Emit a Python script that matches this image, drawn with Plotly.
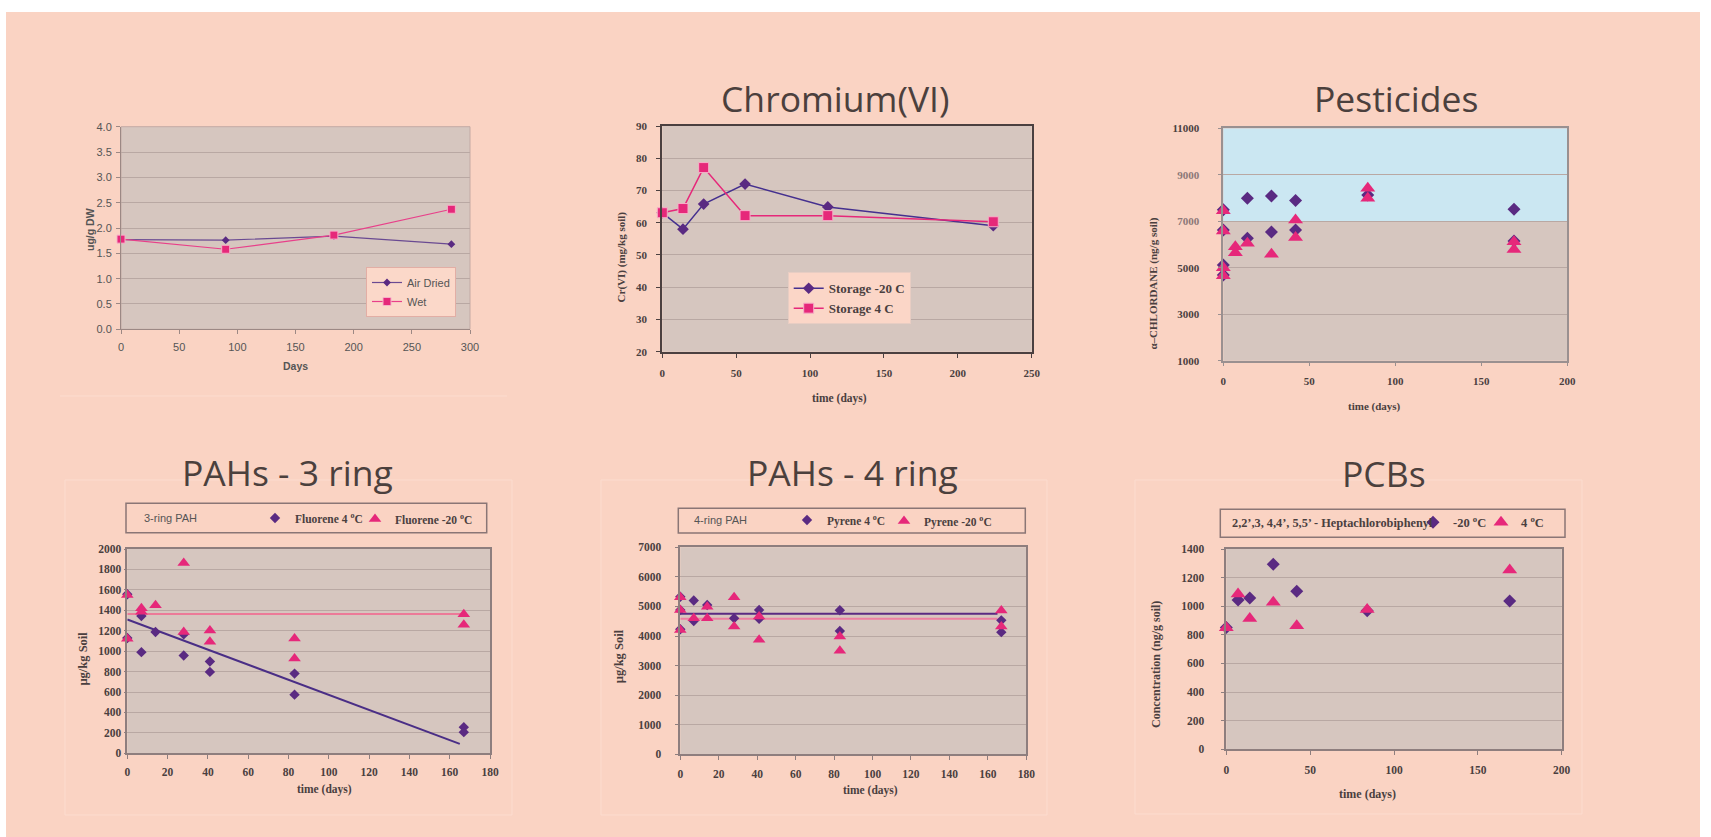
import plotly.graph_objects as go

W, H = 1711, 837

# ---------------- data ----------------
# Panel 1 (untitled)
p1_days = [0, 90, 183, 284]
p1_air_dried = [1.77, 1.76, 1.84, 1.68]
p1_wet = [1.78, 1.58, 1.86, 2.37]
p1_xticks = [0, 50, 100, 150, 200, 250, 300]
p1_yticks = [0.0, 0.5, 1.0, 1.5, 2.0, 2.5, 3.0, 3.5, 4.0]

# Panel 2 Chromium(VI)
cr_days = [0, 14, 28, 56, 112, 224]
cr_storage_m20 = [63.1, 58.0, 65.8, 72.0, 64.9, 59.1]
cr_storage_4 = [63.1, 64.4, 77.1, 62.2, 62.2, 60.3]
cr_xticks = [0, 50, 100, 150, 200, 250]
cr_yticks = [20, 30, 40, 50, 60, 70, 80, 90]

# Panel 3 Pesticides (alpha-chlordane)
pest_dia_days = [0, 0, 0, 0, 14, 14, 28, 28, 42, 42, 84, 169, 169]
pest_dia_vals = [7500, 6620, 5120, 4690, 7990, 6270, 8090, 6540, 7890, 6620, 8130, 7520, 6150]
pest_tri_days = [0, 0, 0, 0, 7, 7, 14, 28, 42, 42, 84, 84, 169, 169]
pest_tri_vals = [7450, 6580, 5000, 4650, 5900, 5650, 6050, 5580, 7050, 6300, 8420, 7990, 6120, 5790]
pest_xticks = [0, 50, 100, 150, 200]
pest_yticks = [1000, 3000, 5000, 7000, 9000, 11000]

# Panel 4 PAHs - 3 ring
flu_days = [0, 0, 7, 7, 14, 28, 28, 41, 41, 83, 83, 167, 167]
flu_4c = [1557, 1128, 1344, 990, 1187, 957, 1164, 898, 797, 780, 574, 256, 207]
flu_m20 = [1550, 1121, 1420, 1385, 1449, 1862, 1187, 1203, 1092, 1125, 928, 1361, 1259]
flu_fit4_days = [0, 165]
flu_fit4_vals = [1310, 92]
flu_fit20_days = [0, 167]
flu_fit20_vals = [1364, 1364]
pah3_xticks = [0, 20, 40, 60, 80, 100, 120, 140, 160, 180]
pah3_yticks = [0, 200, 400, 600, 800, 1000, 1200, 1400, 1600, 1800, 2000]

# Panel 5 PAHs - 4 ring
pyr_dia_days = [0, 0, 0, 7, 7, 14, 28, 41, 41, 83, 83, 167, 167]
pyr_4c = [5330, 4880, 4230, 5200, 4510, 5050, 4600, 4880, 4580, 4870, 4170, 4530, 4130]
pyr_tri_days = [0, 0, 0, 7, 14, 14, 28, 28, 41, 41, 83, 83, 167, 167]
pyr_m20 = [5310, 4880, 4200, 4600, 4990, 4600, 5310, 4320, 4660, 3870, 3980, 3500, 4860, 4320]
pyr_fit4_days = [0, 165]
pyr_fit4_vals = [4757, 4757]
pyr_fit20_days = [0, 165]
pyr_fit20_vals = [4588, 4588]
pah4_xticks = [0, 20, 40, 60, 80, 100, 120, 140, 160, 180]
pah4_yticks = [0, 1000, 2000, 3000, 4000, 5000, 6000, 7000]

# Panel 6 PCBs
pcb_days = [0, 7, 14, 28, 42, 84, 169]
pcb_m20 = [852, 1044, 1057, 1293, 1104, 969, 1037]
pcb_4c = [850, 1085, 915, 1027, 864, 978, 1253]
pcb_xticks = [0, 50, 100, 150, 200]
pcb_yticks = [0, 200, 400, 600, 800, 1000, 1200, 1400]

# ---------------- styling ----------------
PEACH = "#fad3c3"
PLOTBG = "#d6c6bf"
GRID = "#b9a8a3"
PURPLE = "#5a2a82"
PINK = "#e6287a"
TXT = "#4a3f3f"
SERIF = "Liberation Serif, Times New Roman, serif"
SANS = "Liberation Sans, Arial, sans-serif"
TITLEF = "Open Sans, sans-serif"


def xd(a, b):
    return [a / W, b / W]


def yd(t, b):
    return [1 - b / H, 1 - t / H]


def px(x):
    return x / W


def py(y):
    return 1 - y / H


fig = go.Figure()

# Panel 1
fig.add_trace(go.Scatter(x=p1_days, y=p1_air_dried, name="Air Dried", mode="lines+markers",
                         line=dict(color="#6a4a92", width=1.2),
                         marker=dict(symbol="diamond", size=6, color=PURPLE),
                         xaxis="x", yaxis="y", legend="legend", cliponaxis=False))
fig.add_trace(go.Scatter(x=p1_days, y=p1_wet, name="Wet", mode="lines+markers",
                         line=dict(color="#e8408a", width=1.2),
                         marker=dict(symbol="square", size=8, color=PINK, line=dict(color="#f6b0c8", width=1)),
                         xaxis="x", yaxis="y", legend="legend", cliponaxis=False))

# Panel 2
fig.add_trace(go.Scatter(x=cr_days, y=cr_storage_m20, name="Storage -20 C", mode="lines+markers",
                         line=dict(color="#45308f", width=1.5),
                         marker=dict(symbol="diamond", size=9, color=PURPLE),
                         xaxis="x2", yaxis="y2", legend="legend2", cliponaxis=False))
fig.add_trace(go.Scatter(x=cr_days, y=cr_storage_4, name="Storage 4 C", mode="lines+markers",
                         line=dict(color=PINK, width=1.5),
                         marker=dict(symbol="square", size=10, color=PINK, line=dict(color="#f6b0c8", width=1)),
                         xaxis="x2", yaxis="y2", legend="legend2", cliponaxis=False))

# Panel 3
fig.add_trace(go.Scatter(x=pest_dia_days, y=pest_dia_vals, mode="markers", showlegend=False,
                         marker=dict(symbol="diamond", size=10, color=PURPLE),
                         xaxis="x3", yaxis="y3", cliponaxis=False))
fig.add_trace(go.Scatter(x=pest_tri_days, y=pest_tri_vals, mode="markers", showlegend=False,
                         marker=dict(symbol="triangle-up", size=13, color=PINK),
                         xaxis="x3", yaxis="y3", cliponaxis=False))

# Panel 4
fig.add_trace(go.Scatter(x=flu_fit20_days, y=flu_fit20_vals, mode="lines", showlegend=False,
                         line=dict(color="#ec7a98", width=2), xaxis="x4", yaxis="y4"))
fig.add_trace(go.Scatter(x=flu_fit4_days, y=flu_fit4_vals, mode="lines", showlegend=False,
                         line=dict(color="#4a2e86", width=2), xaxis="x4", yaxis="y4"))
fig.add_trace(go.Scatter(x=flu_days, y=flu_4c, name="Fluorene 4 <sup>o</sup>C", mode="markers",
                         marker=dict(symbol="diamond", size=8, color=PURPLE),
                         xaxis="x4", yaxis="y4", legend="legend3", cliponaxis=False))
fig.add_trace(go.Scatter(x=flu_days, y=flu_m20, name="Fluorene -20 <sup>o</sup>C", mode="markers",
                         marker=dict(symbol="triangle-up", size=11, color=PINK),
                         xaxis="x4", yaxis="y4", legend="legend4", cliponaxis=False))

# Panel 5
fig.add_trace(go.Scatter(x=pyr_fit4_days, y=pyr_fit4_vals, mode="lines", showlegend=False,
                         line=dict(color="#5a2a82", width=2), xaxis="x5", yaxis="y5"))
fig.add_trace(go.Scatter(x=pyr_fit20_days, y=pyr_fit20_vals, mode="lines", showlegend=False,
                         line=dict(color="#ee7fa0", width=2), xaxis="x5", yaxis="y5"))
fig.add_trace(go.Scatter(x=pyr_dia_days, y=pyr_4c, name="Pyrene 4 <sup>o</sup>C", mode="markers",
                         marker=dict(symbol="diamond", size=8, color=PURPLE),
                         xaxis="x5", yaxis="y5", legend="legend5", cliponaxis=False))
fig.add_trace(go.Scatter(x=pyr_tri_days, y=pyr_m20, name="Pyrene -20 <sup>o</sup>C", mode="markers",
                         marker=dict(symbol="triangle-up", size=11, color=PINK),
                         xaxis="x5", yaxis="y5", legend="legend6", cliponaxis=False))

# Panel 6
fig.add_trace(go.Scatter(x=pcb_days, y=pcb_m20, name="-20 <sup>o</sup>C", mode="markers",
                         marker=dict(symbol="diamond", size=10, color=PURPLE),
                         xaxis="x6", yaxis="y6", legend="legend7", cliponaxis=False))
fig.add_trace(go.Scatter(x=pcb_days, y=pcb_4c, name="4 <sup>o</sup>C", mode="markers",
                         marker=dict(symbol="triangle-up", size=13, color=PINK),
                         xaxis="x6", yaxis="y6", legend="legend8", cliponaxis=False))


def xaxis(domain, rng, ticks, anchor, font, color, linecolor, lw=1, mirror=False, standoff=0, ticklen=4):
    return dict(domain=domain, range=rng, tickvals=ticks, anchor=anchor, showgrid=False, zeroline=False,
                showline=True, linecolor=linecolor, linewidth=lw, mirror=mirror,
                ticks="outside", ticklen=ticklen, tickcolor=linecolor, tickwidth=1,
                tickfont=dict(family=font["family"], size=font["size"], color=color, weight=font.get("weight", "normal")),
                ticklabelstandoff=standoff, fixedrange=True, automargin=False)


def yaxis(domain, rng, ticks, anchor, font, color, linecolor, lw=1, mirror=False, standoff=0,
          ticktext=None, tickformat=None, ticklen=4):
    d = dict(domain=domain, range=rng, tickvals=ticks, anchor=anchor, showgrid=True, gridcolor=GRID,
             gridwidth=1, zeroline=False, showline=True, linecolor=linecolor, linewidth=lw, mirror=mirror,
             ticks="outside", ticklen=ticklen, tickcolor=linecolor, tickwidth=1,
             tickfont=dict(family=font["family"], size=font["size"], color=color, weight=font.get("weight", "normal")),
             ticklabelstandoff=standoff, fixedrange=True, automargin=False)
    if ticktext is not None:
        d["ticktext"] = ticktext
    if tickformat is not None:
        d["tickformat"] = tickformat
    return d


sansf = dict(family=SANS, size=11)
serif11 = dict(family=SERIF, size=11, weight="bold")
serif115 = dict(family=SERIF, size=11.5, weight="bold")

pest_ticktext = [str(v) if v not in (7000, 9000) else '<span style="color:#8c7878">%d</span>' % v
                 for v in pest_yticks]

layout = dict(
    width=W, height=H, autosize=False,
    margin=dict(l=0, r=0, t=0, b=0, pad=0, autoexpand=False),
    paper_bgcolor="white", plot_bgcolor=PLOTBG,
    xaxis=xaxis(xd(121, 470), [0, 300], p1_xticks, "y", sansf, "#555", "#9c8884", standoff=3),
    yaxis=yaxis(yd(126.7, 329.3), [0, 4], p1_yticks, "x", sansf, "#555", "#9c8884", standoff=2,
                tickformat=".1f"),
    xaxis2=xaxis(xd(662.3, 1031.7), [0, 250], cr_xticks, "y2", serif11, TXT, "#4b4040", lw=2, mirror=True,
                 standoff=6),
    yaxis2=yaxis(yd(126, 351.7), [20, 90], cr_yticks, "x2", serif11, TXT, "#4b4040", lw=2, mirror=True,
                 standoff=7),
    xaxis3=xaxis(xd(1223.3, 1567.3), [0, 200], pest_xticks, "y3", serif11, TXT, "#9a9090", lw=1.5,
                 mirror=True, standoff=5),
    yaxis3=yaxis(yd(128.3, 360.7), [1000, 11000], pest_yticks, "x3", serif11, TXT, "#9a9090", lw=1.5,
                 mirror=True, standoff=16, ticktext=pest_ticktext),
    xaxis4=xaxis(xd(127.3, 490), [0, 180], pah3_xticks, "y4", serif115, TXT, "#8e7e7e", lw=1.5,
                 mirror=True, standoff=3),
    yaxis4=yaxis(yd(549, 753.3), [0, 2000], pah3_yticks, "x4", serif115, TXT, "#8e7e7e", lw=1.5,
                 mirror=True, standoff=0, ticklen=2),
    xaxis5=xaxis(xd(680.3, 1026.3), [0, 180], pah4_xticks, "y5", serif115, TXT, "#8e7e7e", lw=1.5,
                 mirror=True, standoff=4),
    yaxis5=yaxis(yd(547.3, 754.3), [0, 7000], pah4_yticks, "x5", serif115, TXT, "#8e7e7e", lw=1.5,
                 mirror=True, standoff=11),
    xaxis6=xaxis(xd(1226.3, 1561.7), [0, 200], pcb_xticks, "y6", serif115, TXT, "#8e7e7e", lw=1.5,
                 mirror=True, standoff=5),
    yaxis6=yaxis(yd(549, 749.3), [0, 1400], pcb_yticks, "x6", serif115, TXT, "#8e7e7e", lw=1.5,
                 mirror=True, standoff=14),
    legend=dict(x=px(456), y=py(292), xanchor="right", yanchor="middle", bgcolor="#fbd8c9",
                bordercolor="#e2aea5", borderwidth=1, font=dict(family=SANS, size=11, color="#555"),
                itemwidth=30, tracegroupgap=0),
    legend2=dict(x=px(787.7), y=py(272.3), xanchor="left", yanchor="top", bgcolor="#fbd6c7",
                 bordercolor="#e8cdc3", borderwidth=1, font=dict(family=SERIF, size=13, color=TXT, weight="bold"),
                 itemwidth=30, tracegroupgap=0),
)

leg_single = dict(bgcolor="rgba(0,0,0,0)", borderwidth=0, xanchor="left", yanchor="middle",
                  orientation="h", itemwidth=30)
for name, x, y, fs in [("legend3", 255, 518, 11.5), ("legend4", 355, 519, 11.5), ("legend5", 787, 520, 11.5),
                       ("legend6", 884, 521, 11.5), ("legend7", 1413, 522.7, 12.5), ("legend8", 1481, 522.7, 12.5)]:
    d = dict(leg_single)
    d.update(x=px(x), y=py(y), font=dict(family=SERIF, size=fs, color=TXT, weight="bold"))
    layout[name] = d

FRAME = "#fcdccf"
shapes = [
    # peach page area
    dict(type="rect", xref="paper", yref="paper", x0=px(6), x1=px(1700), y0=0, y1=py(12),
         fillcolor=PEACH, line=dict(width=0), layer="below"),
    # faint panel frames
    dict(type="line", xref="paper", yref="paper", x0=px(60), x1=px(507), y0=py(396), y1=py(396),
         line=dict(color=FRAME, width=1), layer="below"),
    dict(type="rect", xref="paper", yref="paper", x0=px(65), x1=px(512), y0=py(815), y1=py(480),
         line=dict(color=FRAME, width=1), layer="below"),
    dict(type="rect", xref="paper", yref="paper", x0=px(601), x1=px(1047), y0=py(815), y1=py(480),
         line=dict(color=FRAME, width=1), layer="below"),
    dict(type="rect", xref="paper", yref="paper", x0=px(1135), x1=px(1582), y0=py(814), y1=py(480),
         line=dict(color=FRAME, width=1), layer="below"),
]
# plot-area backgrounds (drawn inside each subplot, above the page fill)
for i in ["", "2", "3", "4", "5", "6"]:
    shapes.append(dict(type="rect", xref="x%s domain" % i, yref="y%s domain" % i, x0=0, x1=1, y0=0, y1=1,
                       fillcolor=PLOTBG, line=dict(width=0), layer="below"))
shapes += [
    # panel 1 light plot border
    dict(type="rect", xref="x domain", yref="y domain", x0=0, x1=1, y0=0, y1=1,
         line=dict(color="#c3aaa4", width=1), layer="below"),
    # pesticides blue band
    dict(type="rect", xref="x3 domain", yref="y3", x0=0, x1=1, y0=7000, y1=11000,
         fillcolor="#cbe7f2", line=dict(width=0), layer="below"),
    # horizontal legend boxes
    dict(type="rect", xref="paper", yref="paper", x0=px(126), x1=px(486.7), y0=py(532.7), y1=py(503.3),
         line=dict(color="#8a7676", width=1.5), layer="above"),
    dict(type="rect", xref="paper", yref="paper", x0=px(678.3), x1=px(1025.3), y0=py(533), y1=py(508.3),
         line=dict(color="#8a7676", width=1.5), layer="above"),
    dict(type="rect", xref="paper", yref="paper", x0=px(1220.3), x1=px(1565), y0=py(537.3), y1=py(509.3),
         line=dict(color="#8a7676", width=1.5), layer="above"),
]
layout["shapes"] = shapes

TITLE_C = "#4b403d"
ann = []


def title(text, x, y):
    ann.append(dict(text=text, x=px(x), y=py(y), xref="paper", yref="paper", showarrow=False,
                    xanchor="center", yanchor="middle", font=dict(family=TITLEF, size=35.5, color=TITLE_C)))


def label(text, x, y, family, size, color=TXT, angle=0, xanchor="center", weight="bold"):
    ann.append(dict(text=text, x=px(x), y=py(y), xref="paper", yref="paper", showarrow=False,
                    xanchor=xanchor, yanchor="middle", textangle=angle,
                    font=dict(family=family, size=size, color=color, weight=weight)))


title("Chromium(VI)", 835, 98)
title("Pesticides", 1395.5, 98)
title("PAHs - 3 ring", 287.5, 472)
title("PAHs - 4 ring", 852.5, 472)
title("PCBs", 1384, 473)

# axis titles
label("ug/g DW", 90, 230, SANS, 10.5, "#555", -90)
label("Days", 295.7, 366, SANS, 10.5, "#555")
label("Cr(VI) (mg/kg soil)", 621.7, 256.7, SERIF, 11, TXT, -90)
label("time (days)", 839.3, 398.3, SERIF, 11.5, TXT)
label("\u03b1\u2013CHLORDANE (ng/g soil)", 1153.3, 283.3, SERIF, 11, TXT, -90)
label("time (days)", 1374, 406.7, SERIF, 11, TXT)
label("\u00b5g/kg Soil", 83.3, 658.3, SERIF, 12.5, TXT, -90)
label("time (days)", 324.3, 789.3, SERIF, 11.5, TXT)
label("\u00b5g/kg Soil", 619.3, 656, SERIF, 12.5, TXT, -90)
label("time (days)", 870, 790, SERIF, 11.5, TXT)
label("Concentration (ng/g soil)", 1156, 665, SERIF, 12, TXT, -90)
label("time (days)", 1367.3, 794, SERIF, 12, TXT)

# legend box captions
label("3-ring PAH", 141.7, 518, SANS, 11, "#555", 0, "left", "normal")
label("4-ring PAH", 691.7, 520, SANS, 11, "#555", 0, "left", "normal")
label("2,2\u2019,3, 4,4\u2019, 5,5\u2019 - Heptachlorobiphenyl", 1230, 522.7, SERIF, 12.3, TXT, 0, "left")

layout["annotations"] = ann

fig.update_layout(**layout)
fig.write_html("out.html", config={"displayModeBar": False},
               post_script="document.body.style.margin='0';document.body.style.overflow='hidden';")
